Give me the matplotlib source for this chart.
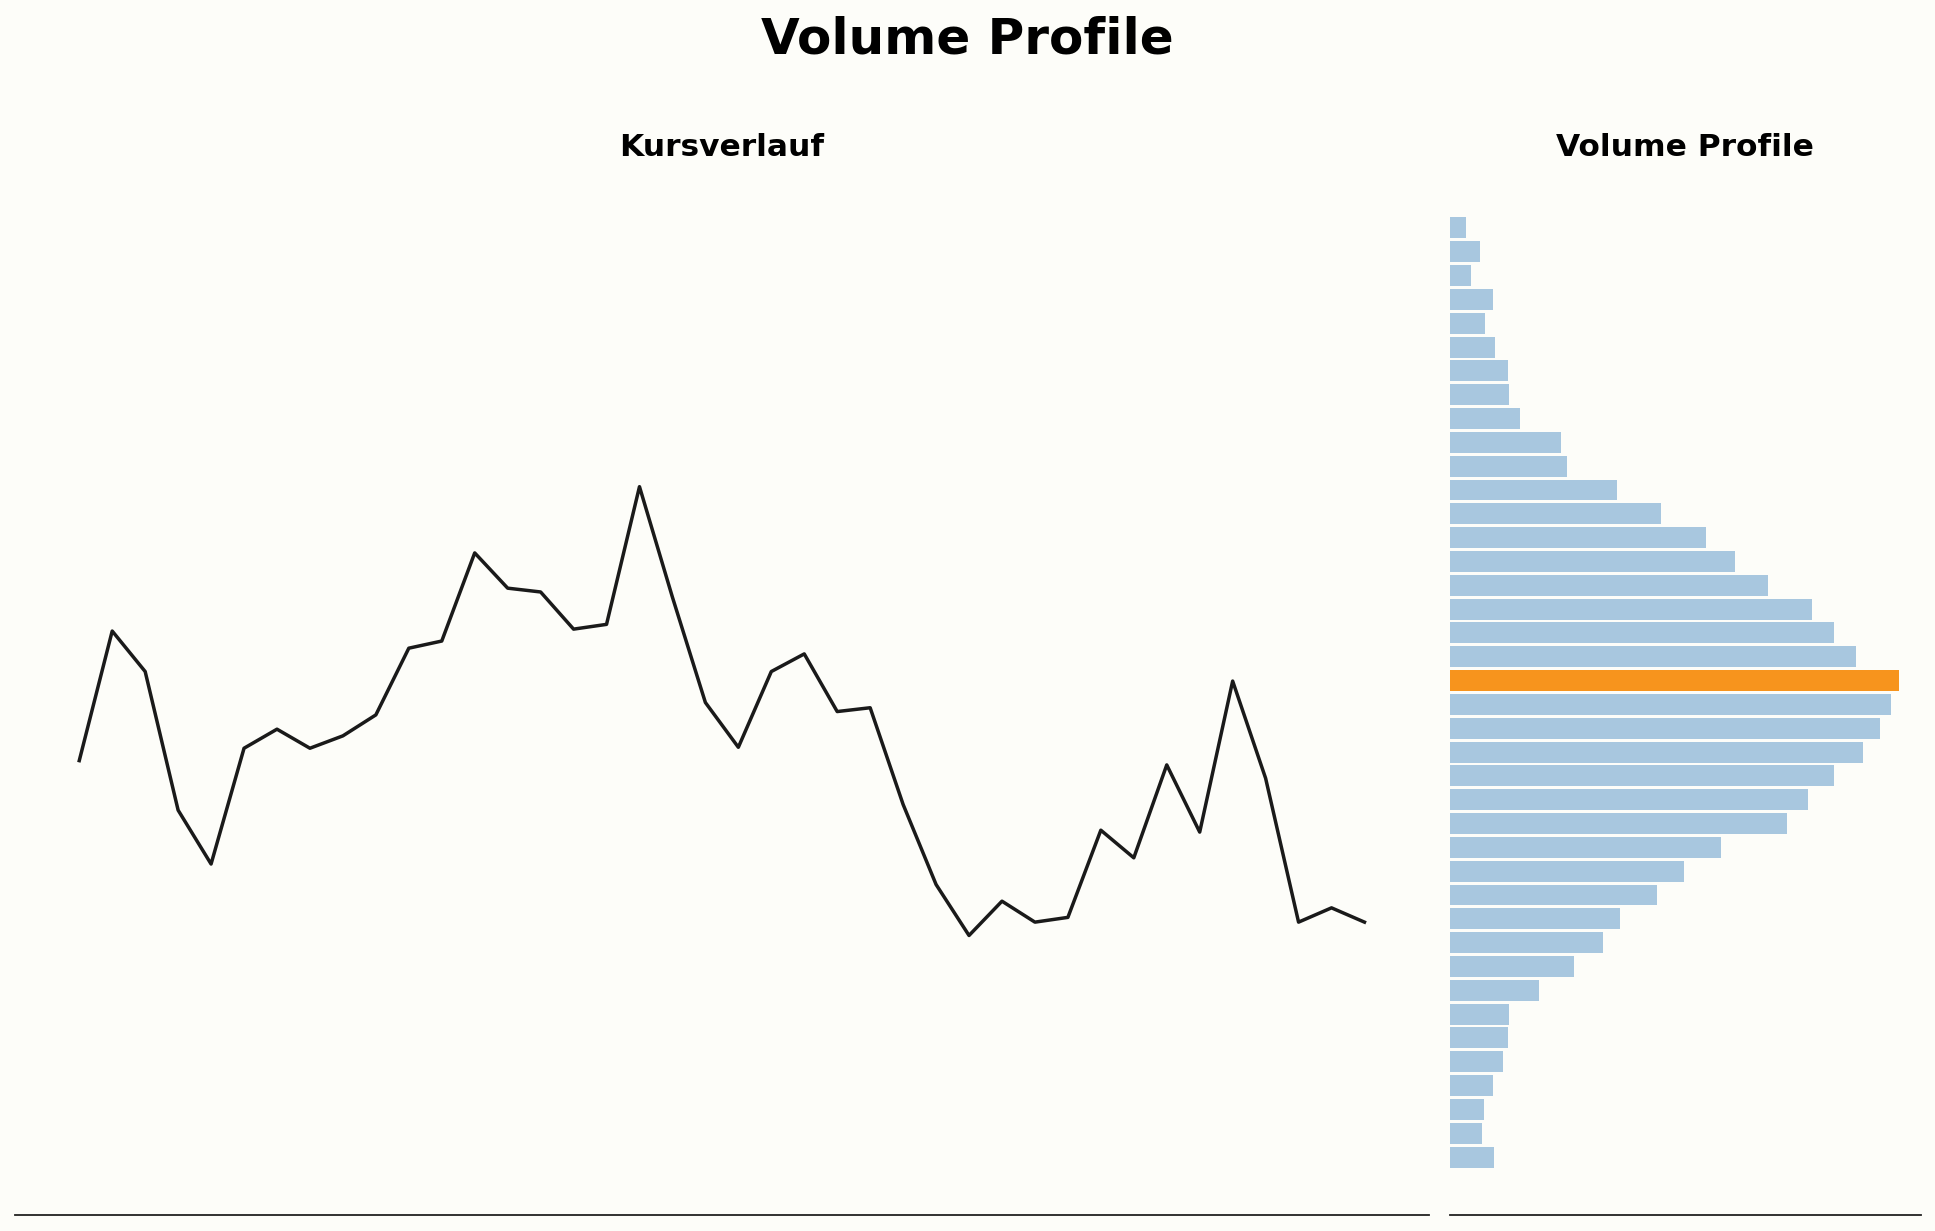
import numpy as np
import matplotlib.pyplot as plt

# closing prices per period (left panel)
prices = [98.32, 101.04, 100.19, 97.28, 96.15, 98.58, 98.98, 98.58, 98.84, 99.28,
          100.68, 100.83, 102.68, 101.94, 101.86, 101.08, 101.18, 104.07, 101.75, 99.54,
          98.60, 100.19, 100.56, 99.35, 99.43, 97.40, 95.72, 94.65, 95.37, 94.93,
          95.03, 96.86, 96.28, 98.23, 96.82, 99.99, 97.95, 94.93, 95.23, 94.93]

# volume profile: price level (bin centre) and traded volume
price_levels = [90.0, 90.5, 91.0, 91.5, 92.0, 92.5, 93.0, 93.5, 94.0, 94.5,
                95.0, 95.5, 96.0, 96.5, 97.0, 97.5, 98.0, 98.5, 99.0, 99.5,
                100.0, 100.5, 101.0, 101.5, 102.0, 102.5, 103.0, 103.5, 104.0, 104.5,
                105.0, 105.5, 106.0, 106.5, 107.0, 107.5, 108.0, 108.5, 109.0, 109.5]
volumes = [131, 96, 99, 126, 155, 170, 173, 263, 363, 448,
           498, 609, 688, 794, 990, 1049, 1128, 1213, 1263, 1295,
           1316, 1192, 1128, 1061, 932, 835, 750, 618, 489, 345,
           325, 205, 175, 170, 134, 102, 126, 61, 88, 49]

bg = '#fdfdf9'
bar_color = '#a8c7df'
poc_color = '#f7941d'

fig, (ax1, ax2) = plt.subplots(1, 2, figsize=(19.35, 12.31), dpi=100, sharey=True,
                               gridspec_kw={'width_ratios': [3, 1]})
fig.patch.set_facecolor(bg)
fig.subplots_adjust(left=15 / 1935, right=1921 / 1935, bottom=16 / 1231,
                    top=1 - 170 / 1231, wspace=0.0223)

# price line
ax1.plot(range(len(prices)), prices, color='#1a1a1a', linewidth=2.5)
ax1.set_title('Kursverlauf', fontsize=22.5, fontweight='bold', pad=10)

# volume profile bars, point of control in orange
poc = int(np.argmax(volumes))
colors = [poc_color if i == poc else bar_color for i in range(len(volumes))]
ax2.barh(price_levels, volumes, height=0.44, color=colors)
ax2.set_title('Volume Profile', fontsize=22.5, fontweight='bold', pad=10)

for ax in (ax1, ax2):
    ax.set_facecolor(bg)
    ax.set_xticks([])
    ax.set_yticks([])
    for side in ('top', 'left', 'right'):
        ax.spines[side].set_visible(False)
    ax.spines['bottom'].set_color('#222222')
    ax.spines['bottom'].set_linewidth(1.3)
    ax.tick_params(left=False, bottom=False)

fig.suptitle('Volume Profile', fontsize=36, fontweight='bold', y=1 - 53 / 1231, va='baseline')

fig.savefig('out.png', dpi=100, facecolor=bg)
